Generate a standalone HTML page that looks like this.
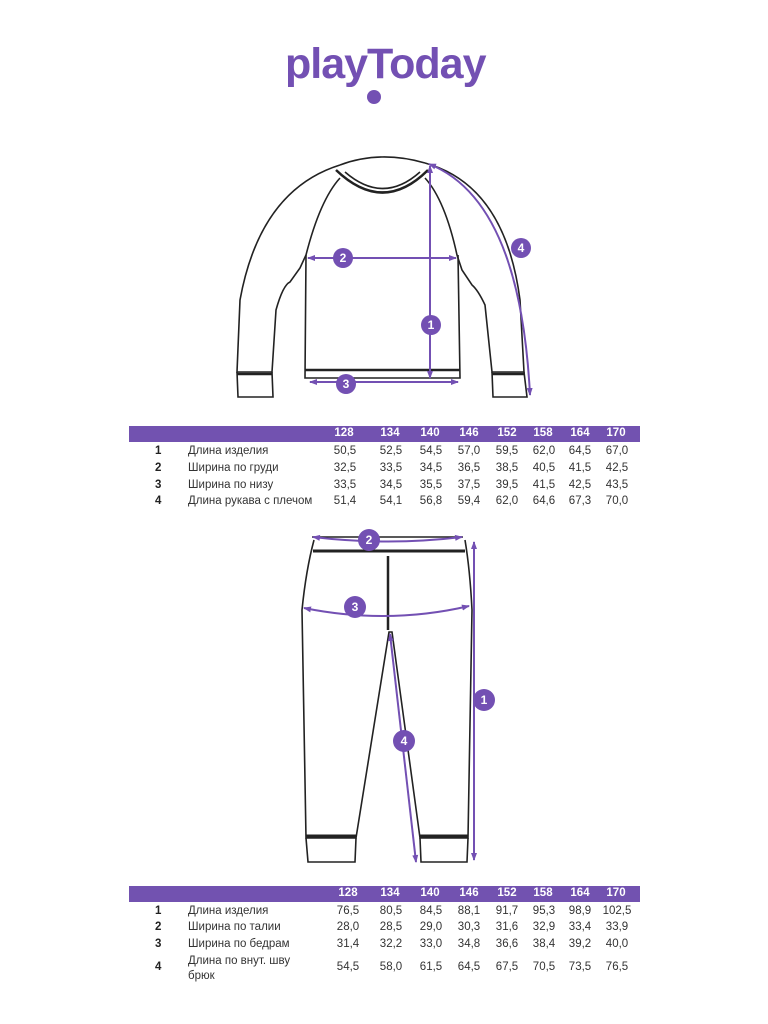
<!DOCTYPE html>
<html><head><meta charset="utf-8"><style>
body{margin:0;width:768px;height:1024px;background:#fff;position:relative;font-family:"Liberation Sans",sans-serif;overflow:hidden}
.bar{position:absolute;left:129px;width:511px;height:16px;background:#7252b0}
.t{position:absolute;font-size:11.5px;color:#333;white-space:nowrap}
.h{position:absolute;font-size:11.5px;color:#fff;font-weight:bold;white-space:nowrap;transform:translateX(-50%)}
.v{transform:translateX(-50%)}
.n{font-weight:bold;color:#222}
.logo{position:absolute;left:285px;top:40px;font-size:43px;font-weight:bold;color:#7350b3;letter-spacing:-1px}
</style></head><body>
<div class="logo">playToday</div>
<div style="position:absolute;left:367px;top:90px;width:14px;height:14px;border-radius:50%;background:#7350b3"></div>

<svg width="768" height="1024" style="position:absolute;left:0;top:0">
<defs><marker id="a" markerUnits="userSpaceOnUse" markerWidth="8" markerHeight="8" refX="7" refY="4" orient="auto-start-reverse"><path d="M0,1 L8,4 L0,7 z" fill="#7350b3"/></marker></defs>
<g fill="none" stroke="#222" stroke-width="1.6">
<path d="M340,165 Q380,150 425,163"/>
<path d="M345,172 Q383,205 420,172"/>
<path d="M336,170 Q383,215 428,170" stroke-width="2.5"/>
<path d="M340,165 Q260,190 240,300 L237,372 L272,372 L276,310 Q283,285 290,282 L300,268 L306,255 Q320,200 340,178"/>
<path d="M425,163 Q505,185 520,300 L524,372 L492,372 L485,305 Q478,290 472,285 L462,270 L457,255 Q445,200 425,178"/>
<path d="M306,255 L305,378 L460,378 L458,255"/>
<path d="M305,370 L460,370" stroke-width="2.5"/>
<path d="M237,372 L238,397 L273,397 L272,372"/><path d="M237,374 L272,374" stroke-width="2.5"/>
<path d="M492,372 L493,397 L527,397 L524,372"/><path d="M492,374 L524,374" stroke-width="2.5"/>
<path d="M312,537 L463,537"/>
<path d="M313,551 L465,551" stroke-width="3"/>
<path d="M314,540 Q306,570 302,610 L306,838 L356,838 L389,632 L392,632 L420,838 L468,838 L472,610 Q470,570 465,540"/>
<path d="M388,556 L388,630" stroke-width="2.5"/>
<path d="M306,838 L308,862 L355,862 L356,838"/><path d="M306,836 L356,836" stroke-width="3"/>
<path d="M420,838 L421,862 L467,862 L468,838"/><path d="M420,836 L468,836" stroke-width="3"/>
</g>
<g fill="none" stroke="#7350b3" stroke-width="2">
<path d="M308,258 L456,258" marker-start="url(#a)" marker-end="url(#a)"/>
<path d="M430,166 L430,378" marker-start="url(#a)" marker-end="url(#a)"/>
<path d="M310,382 L458,382" marker-start="url(#a)" marker-end="url(#a)"/>
<path d="M429,164 Q520,200 530,395" marker-start="url(#a)" marker-end="url(#a)"/>
<path d="M313,537 Q388,546 462,537" marker-start="url(#a)" marker-end="url(#a)"/>
<path d="M304,608 Q388,625 469,606" marker-start="url(#a)" marker-end="url(#a)"/>
<path d="M474,542 L474,860" marker-start="url(#a)" marker-end="url(#a)"/>
<path d="M390,634 L416,862" marker-start="url(#a)" marker-end="url(#a)"/>
</g>
<g fill="#7350b3">
<circle cx="343" cy="258" r="10"/><circle cx="431" cy="325" r="10"/><circle cx="346" cy="384" r="10"/><circle cx="521" cy="248" r="10"/>
<circle cx="369" cy="540" r="11"/><circle cx="355" cy="607" r="11"/><circle cx="484" cy="700" r="11"/><circle cx="404" cy="741" r="11"/>
</g>
<g fill="#fff" font-family="Liberation Sans" font-weight="bold" font-size="12" text-anchor="middle">
<text x="343" y="262">2</text><text x="431" y="329">1</text><text x="346" y="388">3</text><text x="521" y="252">4</text>
<text x="369" y="544">2</text><text x="355" y="611">3</text><text x="484" y="704">1</text><text x="404" y="745">4</text>
</g>
</svg>

<div class="bar" style="top:426px"></div>
<div class="h" style="left:344px;top:427px">128</div><div class="h" style="left:390px;top:427px">134</div><div class="h" style="left:430px;top:427px">140</div><div class="h" style="left:469px;top:427px">146</div><div class="h" style="left:507px;top:427px">152</div><div class="h" style="left:543px;top:427px">158</div><div class="h" style="left:580px;top:427px">164</div><div class="h" style="left:616px;top:427px">170</div>

<div class="t n" style="left:155px;top:445px">1</div><div class="t" style="left:188px;top:445px">Длина изделия</div>
<div class="t n" style="left:155px;top:462px">2</div><div class="t" style="left:188px;top:462px">Ширина по груди</div>
<div class="t n" style="left:155px;top:479px">3</div><div class="t" style="left:188px;top:479px">Ширина по низу</div>
<div class="t n" style="left:155px;top:495px">4</div><div class="t" style="left:188px;top:495px">Длина рукава с плечом</div>

<div class="bar" style="top:886px"></div>
<div class="h" style="left:348px;top:887px">128</div><div class="h" style="left:390px;top:887px">134</div><div class="h" style="left:430px;top:887px">140</div><div class="h" style="left:469px;top:887px">146</div><div class="h" style="left:507px;top:887px">152</div><div class="h" style="left:543px;top:887px">158</div><div class="h" style="left:580px;top:887px">164</div><div class="h" style="left:616px;top:887px">170</div>

<div class="t n" style="left:155px;top:905px">1</div><div class="t" style="left:188px;top:905px">Длина изделия</div>
<div class="t n" style="left:155px;top:921px">2</div><div class="t" style="left:188px;top:921px">Ширина по талии</div>
<div class="t n" style="left:155px;top:938px">3</div><div class="t" style="left:188px;top:938px">Ширина по бедрам</div>
<div class="t n" style="left:155px;top:961px">4</div><div class="t" style="left:188px;top:954px;line-height:15px">Длина по внут. шву<br>брюк</div>

<div id="vals"></div>
<script>
var cols=[345,391,431,469,507,544,580,617];
var A=[[445,"50,5 52,5 54,5 57,0 59,5 62,0 64,5 67,0"],[462,"32,5 33,5 34,5 36,5 38,5 40,5 41,5 42,5"],[479,"33,5 34,5 35,5 37,5 39,5 41,5 42,5 43,5"],[495,"51,4 54,1 56,8 59,4 62,0 64,6 67,3 70,0"],
[905,"76,5 80,5 84,5 88,1 91,7 95,3 98,9 102,5"],[921,"28,0 28,5 29,0 30,3 31,6 32,9 33,4 33,9"],[938,"31,4 32,2 33,0 34,8 36,6 38,4 39,2 40,0"],[961,"54,5 58,0 61,5 64,5 67,5 70,5 73,5 76,5"]];
var h="";A.forEach(function(r){r[1].split(" ").forEach(function(v,i){h+='<div class="t v" style="left:'+(cols[i]+(r[0]>900&&i==0?3:0))+'px;top:'+r[0]+'px">'+v+'</div>';});});
document.getElementById("vals").innerHTML=h;
</script>
</body></html>
